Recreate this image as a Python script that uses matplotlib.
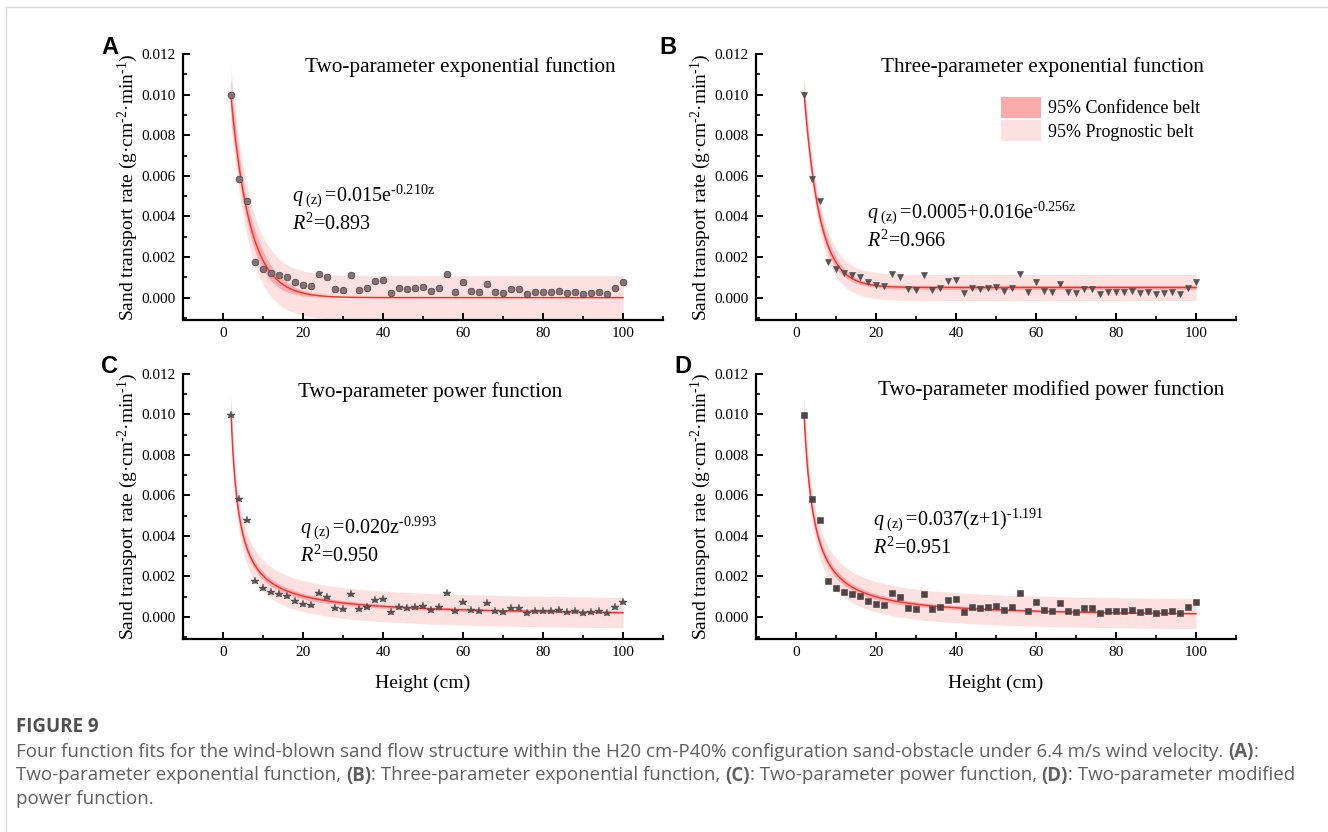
import numpy as np
import matplotlib
matplotlib.use("Agg")
from matplotlib import pyplot as plt
from matplotlib.ticker import MultipleLocator, FormatStrFormatter
from matplotlib.patches import Patch

W, H = 1328, 832

plt.rcParams['font.family'] = 'Liberation Serif'
plt.rcParams['mathtext.fontset'] = 'custom'
plt.rcParams['mathtext.rm'] = 'Liberation Serif'
plt.rcParams['mathtext.it'] = 'Liberation Serif:italic'

### measured data (same in every panel) ###
heights = np.arange(2, 101, 2)
rate = np.array([9.98, 5.84, 4.78, 1.75, 1.42, 1.21, 1.10, 1.01, 0.77, 0.64,
                 0.59, 1.16, 1.00, 0.41, 0.38, 1.11, 0.39, 0.47, 0.82, 0.88,
                 0.23, 0.46, 0.41, 0.47, 0.52, 0.31, 0.49, 1.16, 0.28, 0.75,
                 0.34, 0.28, 0.67, 0.28, 0.23, 0.41, 0.41, 0.20, 0.28, 0.26,
                 0.26, 0.33, 0.25, 0.29, 0.18, 0.25, 0.28, 0.20, 0.49, 0.75]) * 1e-3

letters = ["A", "B", "C", "D"]
titles = ["Two-parameter exponential function",
          "Three-parameter exponential function",
          "Two-parameter power function",
          "Two-parameter modified power function"]
equations = [r"$q_{\ (\mathrm{z})\ }$=0.015e$^{\text{-0.210z}}$",
             r"$q_{\ (\mathrm{z})\ }$=0.0005+0.016e$^{\text{-0.256z}}$",
             r"$q_{\ (\mathrm{z})\ }$=0.020z$^{\text{-0.993}}$",
             r"$q_{\ (\mathrm{z})\ }$=0.037(z+1)$^{\text{-1.191}}$"]
r2_values = ["0.893", "0.966", "0.950", "0.951"]
params = [[0.015, -0.210],
          [0.0005, 0.016, -0.256],
          [0.020, -0.993],
          [0.037, -1.191]]


### fit models ###
def exp2(z, p):
    return p[0] * np.exp(p[1] * z)

def exp3(z, p):
    return p[0] + p[1] * np.exp(p[2] * z)

def power2(z, p):
    return p[0] * z ** p[1]

def mpower2(z, p):
    return p[0] * (z + 1) ** p[1]

models = [exp2, exp3, power2, mpower2]


def jacobian(f, z, p):
    J = np.zeros((len(z), len(p)))
    for i in range(len(p)):
        h = abs(p[i]) * 1e-6
        pp = list(p); pp[i] += h
        pm = list(p); pm[i] -= h
        J[:, i] = (f(z, pp) - f(z, pm)) / (2 * h)
    return J


### 95% confidence / prediction belts (delta method) ###
def belts(f, p, z, y, zz, t=2.01):
    res = y - f(z, p)
    s2 = np.sum(res ** 2) / (len(z) - len(p))
    Jd = jacobian(f, z, p)
    cov = s2 * np.linalg.inv(Jd.T @ Jd)
    Jg = jacobian(f, zz, p)
    v = np.einsum('ij,jk,ik->i', Jg, cov, Jg)
    return t * np.sqrt(v), t * np.sqrt(v + s2)


markers = [dict(marker='o', ms=4.8, mfc='#857276', mec='#4a3c3e', mew=0.5),
           dict(marker='v', ms=4.8, mfc='#555555', mec='#444444', mew=0.4),
           dict(marker='*', ms=6.2, mfc='#555555', mec='#444444', mew=0.3),
           dict(marker='s', ms=4.3, mfc='#4e4345', mec='#4e4345', mew=0.4)]

# axes boxes in pixels: left, top, bottom
boxes = [(183, 54, 320), (756, 54, 320), (183, 374, 639), (756, 374, 639)]

fig = plt.figure(figsize=(W / 100, H / 100), dpi=100)

def ftext(x, y, s, **kw):
    return fig.text(x / W, 1 - y / H, s, **kw)

zz = np.linspace(2, 100, 400)
for k in range(4):
    l, t, b = boxes[k]
    ax = fig.add_axes([l / W, 1 - b / H, 480 / W, (b - t) / H])
    f = models[k]
    p = params[k]
    fit = f(zz, p)
    conf, pred = belts(f, p, heights, rate, zz)
    ax.fill_between(zz, fit - pred, fit + pred, color='#fde0e0', lw=0, zorder=1)
    ax.fill_between(zz, fit - conf, fit + conf, color='#f7a6a6', alpha=0.85, lw=0, zorder=2)
    ax.plot(zz, fit, color='#ff2a2a', lw=1.0, zorder=3)
    ax.plot(heights, rate, ls='none', zorder=4, **markers[k])

    ax.set_xlim(-10, 110)
    ax.set_ylim(-0.0011, 0.012)
    ax.xaxis.set_major_locator(MultipleLocator(20))
    ax.xaxis.set_minor_locator(MultipleLocator(10))
    ax.yaxis.set_major_locator(MultipleLocator(0.002))
    ax.yaxis.set_minor_locator(MultipleLocator(0.001))
    ax.yaxis.set_major_formatter(FormatStrFormatter('%.3f'))
    for s in ['top', 'right']:
        ax.spines[s].set_visible(False)
    for s in ['left', 'bottom']:
        ax.spines[s].set_linewidth(1.6)
    ax.tick_params(which='major', direction='in', length=5, width=1.4, labelsize=11, pad=5)
    ax.tick_params(which='minor', direction='in', length=3, width=1.2)
    ax.set_ylabel(r"Sand transport rate (g·cm$^{\text{-2}}$·min$^{\text{-1}}$)", fontsize=14, labelpad=1)
    if k >= 2:
        ax.set_xlabel("Height (cm)", fontsize=14, labelpad=11)

# titles, equations, panel letters
title_pos = [(305, 67), (881, 67), (298, 392), (878, 390)]
eq_pos = [(292, 196), (867, 213), (300, 528), (873, 520)]
letter_pos = [(110, 47), (668, 47), (110, 367), (683, 367)]
for k in range(4):
    ftext(title_pos[k][0], title_pos[k][1], titles[k], fontsize=15.3, va='center')
    ftext(eq_pos[k][0], eq_pos[k][1], equations[k], fontsize=14.5, va='center')
    ftext(eq_pos[k][0], eq_pos[k][1] + 28, r"$R^{2}$=" + r2_values[k], fontsize=14.5, va='center')
    ftext(letter_pos[k][0], letter_pos[k][1], letters[k], fontsize=17, fontweight='bold',
          family='Liberation Sans', ha='center', va='center')

# legend in panel B
handles = [Patch(facecolor='#f9aaaa', edgecolor='none', label='95% Confidence belt'),
           Patch(facecolor='#fde0e0', edgecolor='none', label='95% Prognostic belt')]
fig.legend(handles=handles, loc='center left', bbox_to_anchor=(992 / W, 1 - 119 / H),
           frameon=False, fontsize=13, handlelength=2.2, handleheight=1.4,
           handletextpad=0.4, labelspacing=0.15, borderpad=0)

# light frame lines
fig.add_artist(plt.Line2D([6 / W, 1], [1 - 7 / H, 1 - 7 / H], color='#d8d8d8', lw=1))
fig.add_artist(plt.Line2D([6 / W, 6 / W], [0, 1 - 7 / H], color='#d8d8d8', lw=1))

### caption ###
cap_font = 'Open Sans'
ftext(16, 727, "FIGURE 9", fontsize=13.5, fontweight='bold', family=cap_font, color='#505050', va='center')
cap_lines = [
    [("Four function fits for the wind-blown sand flow structure within the H20 cm-P40% configuration "
      "sand-obstacle under 6.4 m/s wind velocity. ", 'normal'), ("(A)", 'bold'), (":", 'normal')],
    [("Two-parameter exponential function, ", 'normal'), ("(B)", 'bold'),
     (": Three-parameter exponential function, ", 'normal'), ("(C)", 'bold'),
     (": Two-parameter power function, ", 'normal'), ("(D)", 'bold'), (": Two-parameter modified", 'normal')],
    [("power function.", 'normal')],
]
renderer = fig.canvas.get_renderer()
for i, line in enumerate(cap_lines):
    x = 16
    y = 752 + i * 23.5
    for txt, wt in line:
        tt = ftext(x, y, txt, fontsize=13.5, fontweight=wt, family=cap_font, color='#606060', va='center')
        x += tt.get_window_extent(renderer).width

fig.savefig("out.png", dpi=100)
